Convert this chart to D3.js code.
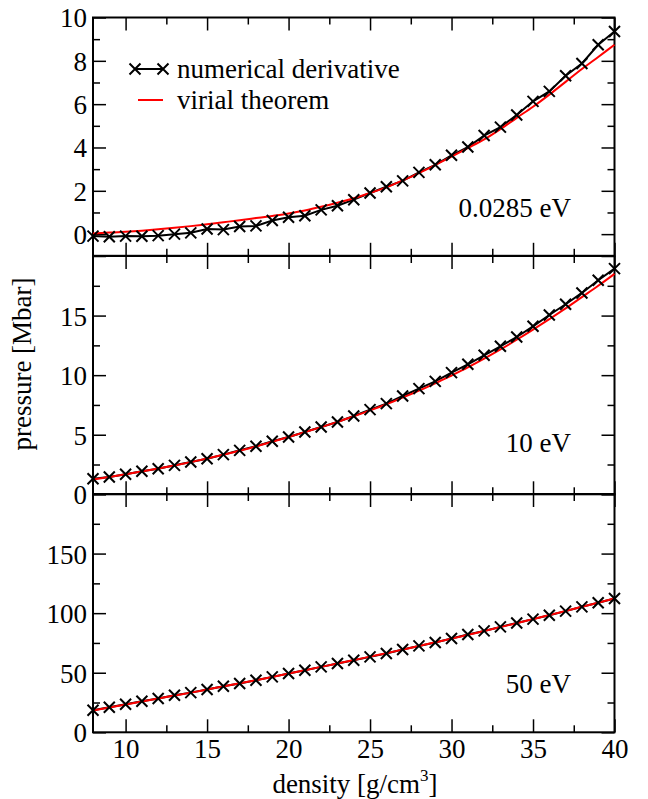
<!DOCTYPE html>
<html>
<head>
<meta charset="utf-8">
<script src="https://cdn.jsdelivr.net/npm/d3@7"></script>
<style>
  html, body { margin: 0; padding: 0; background: #fff; }
  svg { display: block; }
  text { font-family: "Liberation Serif", "Times New Roman", serif; fill: #000; }
</style>
</head>
<body>
<svg id="chart" width="648" height="799"></svg>
<script>
// density grid [g/cm^3]
const density = [8, 9, 10, 11, 12, 13, 14, 15, 16, 17, 18, 19, 20, 21, 22, 23, 24,
                 25, 26, 27, 28, 29, 30, 31, 32, 33, 34, 35, 36, 37, 38, 39, 40];

// pressure [Mbar] at T = 0.0285 eV
const numDeriv0285 = [-0.09, -0.12, -0.09, -0.10, -0.07, 0.00, 0.06, 0.24, 0.21, 0.35, 0.38,
                      0.63, 0.78, 0.85, 1.12, 1.31, 1.59, 1.90, 2.19, 2.46, 2.85, 3.20, 3.64,
                      4.02, 4.55, 4.94, 5.50, 6.13, 6.59, 7.31, 7.88, 8.74, 9.35];
const virial0285 = [0.03, 0.07, 0.11, 0.16, 0.22, 0.29, 0.37, 0.46, 0.55, 0.64, 0.74,
                    0.84, 0.95, 1.09, 1.26, 1.45, 1.66, 1.90, 2.16, 2.48, 2.82, 3.19, 3.58,
                    3.97, 4.37, 4.85, 5.37, 5.88, 6.44, 7.03, 7.62, 8.18, 8.74];

// pressure [Mbar] at T = 10 eV
const numDeriv10 = [1.31, 1.45, 1.68, 1.93, 2.15, 2.43, 2.71, 2.99, 3.33, 3.69, 4.03,
                    4.45, 4.81, 5.23, 5.65, 6.07, 6.57, 7.11, 7.61, 8.25, 8.87, 9.48, 10.21,
                    10.91, 11.67, 12.42, 13.20, 14.10, 15.05, 15.95, 16.90, 17.96, 18.94];
const virial10 = [1.25, 1.46, 1.68, 1.92, 2.16, 2.42, 2.70, 3.00, 3.32, 3.66, 4.02,
                  4.41, 4.81, 5.22, 5.64, 6.08, 6.55, 7.04, 7.56, 8.12, 8.70, 9.31, 9.97,
                  10.65, 11.38, 12.16, 12.97, 13.82, 14.70, 15.60, 16.55, 17.50, 18.50];

// pressure [Mbar] at T = 50 eV
const numDeriv50 = [18.5, 21.0, 23.5, 26.0, 28.3, 31.1, 33.3, 35.9, 38.7, 40.9, 43.7,
                    46.5, 49.3, 52.1, 54.9, 57.7, 60.5, 63.3, 66.1, 69.5, 72.5, 75.4, 78.7,
                    82.1, 85.1, 88.5, 91.8, 95.0, 98.3, 101.7, 105.3, 108.7, 112.3];
const virial50 = [18.3, 20.8, 23.3, 25.8, 28.3, 30.8, 33.3, 35.9, 38.5, 41.1, 43.8,
                  46.5, 49.3, 52.1, 54.9, 57.7, 60.6, 63.5, 66.4, 69.4, 72.4, 75.5, 78.6,
                  81.8, 85.0, 88.3, 91.6, 95.0, 98.4, 101.8, 105.3, 108.8, 112.3];

// axis settings
const xDomain = [8, 40];
const xMajor = [10, 15, 20, 25, 30, 35, 40];
const xMinor = [12.5, 17.5, 22.5, 27.5, 32.5, 37.5];

const panels = [
  { label: "0.0285 eV", domain: [-1, 10], major: [0, 2, 4, 6, 8, 10], labelled: [0, 2, 4, 6, 8, 10],
    minor: [1, 3, 5, 7, 9], num: numDeriv0285, vir: virial0285 },
  { label: "10 eV", domain: [0, 20], major: [0, 5, 10, 15, 20], labelled: [0, 5, 10, 15],
    minor: [2.5, 7.5, 12.5, 17.5], num: numDeriv10, vir: virial10 },
  { label: "50 eV", domain: [0, 200], major: [0, 50, 100, 150, 200], labelled: [0, 50, 100, 150],
    minor: [25, 75, 125, 175], num: numDeriv50, vir: virial50 }
];

const legendItems = ["numerical derivative", "virial theorem"];

// layout
const svg = d3.select("#chart");
const left = 93, right = 614.5;
const panelTops = [17.5, 256, 494];
const panelH = 238.3;
const fontSize = 27;
const majorLen = 13, minorLen = 7;

const x = d3.scaleLinear().domain(xDomain).range([left, right]);

function drawCross(g, cx, cy, r) {
  g.append("path")
    .attr("d", `M${cx - r},${cy - r}L${cx + r},${cy + r}M${cx - r},${cy + r}L${cx + r},${cy - r}`)
    .attr("stroke", "#000").attr("stroke-width", 2).attr("fill", "none");
}

function styleAxis(g) {
  g.select(".domain").remove();
  g.selectAll(".tick line").attr("stroke", "#000").attr("stroke-width", 1.5);
  g.selectAll(".tick text").style("font-size", fontSize + "px")
    .style("font-family", '"Liberation Serif", serif').attr("fill", "#000");
}

panels.forEach((p, i) => {
  const top = panelTops[i];
  const bottom = top + panelH;
  const y = d3.scaleLinear().domain(p.domain).range([bottom, top]);
  const g = svg.append("g");

  // left axis: major ticks with labels, then minor ticks
  const la = g.append("g").attr("transform", `translate(${left},0)`)
    .call(d3.axisLeft(y).tickValues(p.major).tickSize(-majorLen).tickPadding(6)
      .tickFormat(d => p.labelled.includes(d) ? d3.format("d")(d) : ""));
  styleAxis(la);
  la.selectAll(".tick text").attr("dy", "0.35em");
  styleAxis(g.append("g").attr("transform", `translate(${left},0)`)
    .call(d3.axisLeft(y).tickValues(p.minor).tickSize(-minorLen).tickFormat("")));

  // right axis, ticks only
  styleAxis(g.append("g").attr("transform", `translate(${right},0)`)
    .call(d3.axisRight(y).tickValues(p.major).tickSize(-majorLen).tickFormat("")));
  styleAxis(g.append("g").attr("transform", `translate(${right},0)`)
    .call(d3.axisRight(y).tickValues(p.minor).tickSize(-minorLen).tickFormat("")));

  // top axis, ticks only
  styleAxis(g.append("g").attr("transform", `translate(0,${top})`)
    .call(d3.axisTop(x).tickValues(xMajor).tickSize(-majorLen).tickFormat("")));
  styleAxis(g.append("g").attr("transform", `translate(0,${top})`)
    .call(d3.axisTop(x).tickValues(xMinor).tickSize(-minorLen).tickFormat("")));

  // bottom axis, labelled only on the last panel
  const last = i === panels.length - 1;
  const ba = g.append("g").attr("transform", `translate(0,${bottom})`)
    .call(d3.axisBottom(x).tickValues(xMajor).tickSize(-majorLen).tickPadding(7)
      .tickFormat(last ? d3.format("d") : () => ""));
  styleAxis(ba);
  styleAxis(g.append("g").attr("transform", `translate(0,${bottom})`)
    .call(d3.axisBottom(x).tickValues(xMinor).tickSize(-minorLen).tickFormat("")));

  // frame
  g.append("rect").attr("x", left).attr("y", top).attr("width", right - left).attr("height", panelH)
    .attr("fill", "none").attr("stroke", "#000").attr("stroke-width", 2);

  // numerical derivative line (black), then virial theorem curve (red) on top of it
  const blackLine = d3.line().x((d, k) => x(density[k])).y(d => y(d));
  g.append("path").datum(p.num).attr("d", blackLine)
    .attr("fill", "none").attr("stroke", "#000").attr("stroke-width", 2);

  const redLine = d3.line().x((d, k) => x(density[k])).y(d => y(d)).curve(d3.curveMonotoneX);
  g.append("path").datum(p.vir).attr("d", redLine)
    .attr("fill", "none").attr("stroke", "#ff0000").attr("stroke-width", 2);

  // cross markers of the numerical derivative
  p.num.forEach((v, k) => drawCross(g, x(density[k]), y(v), 5.5));

  // temperature label
  const labelY = [217, 452, 693][i];
  g.append("text").attr("x", 571).attr("y", labelY).attr("text-anchor", "end")
    .style("font-size", fontSize + "px").text(p.label);
});

// legend
const lg = svg.append("g");
lg.append("line").attr("x1", 135).attr("x2", 163).attr("y1", 69).attr("y2", 69)
  .attr("stroke", "#000").attr("stroke-width", 2);
drawCross(lg, 135, 69, 5.5);
drawCross(lg, 163, 69, 5.5);
lg.append("line").attr("x1", 138).attr("x2", 163).attr("y1", 100).attr("y2", 100)
  .attr("stroke", "#ff0000").attr("stroke-width", 2);
lg.append("text").attr("x", 177).attr("y", 78).style("font-size", fontSize + "px").text(legendItems[0]);
lg.append("text").attr("x", 177).attr("y", 109).style("font-size", fontSize + "px").text(legendItems[1]);

// axis titles
svg.append("text").attr("transform", "translate(31,364) rotate(-90)").attr("text-anchor", "middle")
  .style("font-size", fontSize + "px").text("pressure [Mbar]");

const xt = svg.append("text").attr("x", 355).attr("y", 793).attr("text-anchor", "middle")
  .style("font-size", fontSize + "px");
xt.append("tspan").text("density [g/cm");
xt.append("tspan").attr("dy", -12).style("font-size", "17px").text("3");
xt.append("tspan").attr("dy", 12).text("]");
</script>
</body>
</html>
